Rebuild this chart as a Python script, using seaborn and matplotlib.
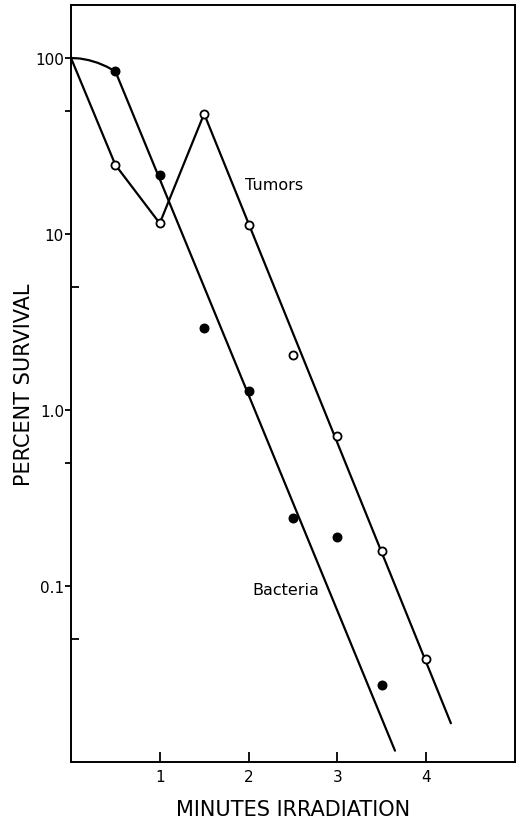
import numpy as np
import pandas as pd
import matplotlib
matplotlib.use("Agg")
import matplotlib.pyplot as plt
import seaborn as sns

# measured survival points (percent)
bact_x = [0.5, 1.0, 1.5, 2.0, 2.5, 3.0, 3.5]
bact_y = [84, 21.7, 2.93, 1.28, 0.244, 0.189, 0.0275]
tum_x = [0.5, 1.0, 1.5, 2.0, 2.5, 3.0, 3.5, 4.0]
tum_y = [24.7, 11.5, 48.2, 11.3, 2.05, 0.71, 0.158, 0.0383]

# drawn curves
bact_line_x = [0, 0.1, 0.2, 0.3, 0.4, 0.5, 3.65]
bact_line_y = [100, 99.3, 97.2, 93.9, 89.4, 84, 0.0116]
tum_line_x = [0, 0.5, 1.0, 1.5, 4.28]
tum_line_y = [100, 24.7, 11.5, 48.2, 0.0166]

x_ticks = [1, 2, 3, 4]
y_ticks = [0.1, 1.0, 10, 100]
y_tick_labels = ["0.1", "1.0", "10", "100"]

sns.set_style("white")
plt.rcParams['font.family'] = ['DejaVu Sans']
plt.rcParams['text.color'] = 'black'
plt.rcParams['axes.labelcolor'] = 'black'
plt.rcParams['xtick.color'] = 'black'
plt.rcParams['ytick.color'] = 'black'

fig = plt.figure(figsize=(5.2, 8.2), dpi=100)
ax = fig.add_axes([0.1365, 0.0695, 0.8535, 0.9232])

sns.lineplot(x=bact_line_x, y=bact_line_y, sort=False, estimator=None,
             color="black", lw=1.6, ax=ax)
sns.lineplot(x=tum_line_x, y=tum_line_y, sort=False, estimator=None,
             color="black", lw=1.6, ax=ax)
sns.scatterplot(x=bact_x, y=bact_y, color="black", s=38, edgecolor="black",
                linewidth=1, ax=ax, zorder=5)
sns.scatterplot(x=tum_x, y=tum_y, color="white", s=34, edgecolor="black",
                linewidth=1.3, ax=ax, zorder=5)

ax.set_yscale("log")
ax.set_xlim(0, 5)
ax.set_ylim(0.01, 200)

ax.set_xticks(x_ticks)
ax.set_xticklabels([str(t) for t in x_ticks])
ax.set_yticks(y_ticks)
ax.set_yticklabels(y_tick_labels)
ax.set_yticks([50, 0.5], minor=True)
ax.yaxis.set_minor_formatter(matplotlib.ticker.NullFormatter())
ax.tick_params(axis="y", which="major", direction="out", length=4, width=1.3,
               labelsize=11, pad=1, left=True)
ax.tick_params(axis="y", which="minor", direction="out", length=4, width=1.3,
               left=True)
ax.tick_params(axis="x", which="major", direction="in", length=7, width=1.3,
               labelsize=11, pad=5, bottom=True)
ax.tick_params(axis="x", which="minor", bottom=False)

# the inward ticks at 5 and 0.05
sec = ax.secondary_yaxis("left")
sec.set_yticks([5, 0.05])
sec.set_yticklabels(["", ""])
sec.tick_params(direction="in", length=6, width=1.3)
sec.tick_params(which="minor", left=False)
sec.spines["left"].set_visible(False)

for sp in ax.spines.values():
    sp.set_color("black")
    sp.set_linewidth(1.4)

ax.text(2.29, 19.2, "Tumors", fontsize=11.5, ha="center", va="center")
ax.text(2.42, 0.096, "Bacteria", fontsize=11.5, ha="center", va="center")

ax.set_xlabel("MINUTES IRRADIATION", fontsize=15, va="center")
ax.set_ylabel("PERCENT SURVIVAL", fontsize=15, va="center")
ax.xaxis.set_label_coords(0.5, -0.062)
ax.yaxis.set_label_coords(-0.106, 0.4995)

fig.savefig("out.png", dpi=100)
